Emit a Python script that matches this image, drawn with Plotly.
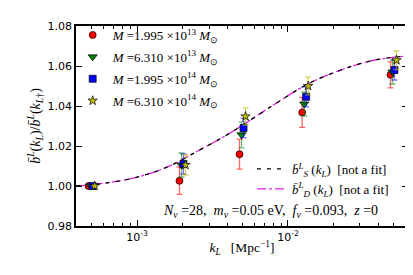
import numpy as np
import plotly.graph_objects as go

# ---- data ----
k_groups = [5.0e-4, 2.0e-3, 5.0e-3, 1.3e-2, 5.0e-2]
dodge = [0.955, 0.985, 1.015, 1.047]

series_names = [
    "<i>M</i> =1.995 ×10<sup>13</sup> <i>M</i><sub>⊙</sub>",
    "<i>M</i> =6.310 ×10<sup>13</sup> <i>M</i><sub>⊙</sub>",
    "<i>M</i> =1.995 ×10<sup>14</sup> <i>M</i><sub>⊙</sub>",
    "<i>M</i> =6.310 ×10<sup>14</sup> <i>M</i><sub>⊙</sub>",
]
red_vals = [1.000, 1.0026, 1.0159, 1.0368, 1.0556]
red_err = [0.0008, 0.0068, 0.0075, 0.0075, 0.0065]
green_vals = [1.000, 1.0105, 1.0256, 1.041, 1.057]
green_err = [0.0006, 0.006, 0.0065, 0.006, 0.006]
blue_vals = [1.000, 1.011, 1.029, 1.0446, 1.058]
blue_err = [0.0005, 0.005, 0.0048, 0.005, 0.005]
star_vals = [1.000, 1.0105, 1.0348, 1.050, 1.0629]
star_err = [0.0005, 0.005, 0.0043, 0.0044, 0.0047]

curve_k = [3.94e-4, 5.52e-4, 9.1e-4, 1.53e-3, 2.54e-3, 4.2e-3, 8.2e-3,
           1.355e-2, 2.244e-2, 3.77e-2, 6.24e-2]
bS_vals = [1.000, 1.001, 1.0037, 1.009, 1.0176, 1.0268, 1.041,
           1.051, 1.058, 1.063, 1.065]
bD_vals = [1.000, 1.001, 1.0037, 1.009, 1.0176, 1.0268, 1.041,
           1.051, 1.058, 1.063, 1.065]

x_tickvals = [1e-3, 1e-2]
x_ticktext = ["10<sup>-3</sup>", "10<sup>-2</sup>"]
y_tickvals = [0.98, 1.00, 1.02, 1.04, 1.06, 1.08]
y_ticktext = ["0.98", "1.00", "1.02", "1.04", "1.06", "1.08"]

# ---- figure ----
serif = "Liberation Serif"
sans = "DejaVu Sans"

fig = go.Figure()

# theory curves first (drawn beneath markers); magenta under black
fig.add_trace(go.Scatter(
    x=curve_k, y=bD_vals, mode="lines", line_shape="spline",
    line=dict(color="#e020e0", width=1.3, dash="dashdot"),
    name="<i>b̄</i><sup><i>L</i></sup><sub><i>D</i></sub> (<i>k<sub>L</sub></i>)  [not a fit]",
    legend="legend2", legendgroup="D", legendrank=2,
))
fig.add_trace(go.Scatter(
    x=curve_k, y=bS_vals, mode="lines", line_shape="spline",
    line=dict(color="black", width=1.3, dash="4px,6px"),
    name="<i>b̄</i><sup><i>L</i></sup><sub><i>S</i></sub> (<i>k<sub>L</sub></i>)  [not a fit]",
    legend="legend2", legendgroup="S", legendrank=1,
))

styles = [
    (red_vals, red_err, "circle", "red", "rgba(255,0,0,0.6)", 7),
    (green_vals, green_err, "triangle-down", "#007f00", "rgba(0,128,0,0.55)", 8),
    (blue_vals, blue_err, "square", "#0000ff", "rgba(0,0,255,0.55)", 7),
    (star_vals, star_err, "star", "#bfbf00", "rgba(191,191,0,0.65)", 7),
]
for i, (vals, err, sym, col, ecol, sz) in enumerate(styles):
    xs = [k * dodge[i] for k in k_groups]
    fig.add_trace(go.Scatter(
        x=xs, y=vals, mode="markers", name=series_names[i],
        marker=dict(symbol=sym, color=col, size=sz,
                    line=dict(color="black", width=0.7)),
        error_y=dict(type="data", array=err, color=ecol, thickness=1.3, width=3),
        legend="legend", legendgroup="m%d" % i,
    ))

minor_vals = [m * 10.0 ** e for e in (-4, -3, -2) for m in range(2, 10)]

fig.update_layout(
    width=413, height=275,
    margin=dict(l=68, r=13, t=18, b=57),
    paper_bgcolor="white", plot_bgcolor="white",
    font=dict(family=serif, size=13, color="black"),
    legend=dict(x=-0.01, y=1.03, xanchor="left", yanchor="top",
                tracegroupgap=2, itemwidth=30,
                bgcolor="rgba(0,0,0,0)", font=dict(family=serif, size=13)),
    legend2=dict(x=0.53, y=0.36, xanchor="left", yanchor="top",
                 tracegroupgap=3, traceorder="normal",
                 bgcolor="rgba(0,0,0,0)", font=dict(family=serif, size=13)),
    xaxis=dict(
        type="log", range=[np.log10(3.94e-4), np.log10(6.24e-2)],
        tickvals=x_tickvals, ticktext=x_ticktext,
        ticks="inside", ticklen=6, tickwidth=1, tickcolor="black",
        mirror="allticks", showline=True, linecolor="black", linewidth=1.5,
        showgrid=False, zeroline=False,
        tickfont=dict(family=sans, size=11),
        minor=dict(tickvals=minor_vals, ticks="inside", ticklen=3,
                   tickcolor="black", showgrid=False),
        title=dict(text="<i>k<sub>L</sub></i>   [Mpc<sup>−1</sup>]",
                   font=dict(family=serif, size=13.5), standoff=0),
    ),
    yaxis=dict(
        range=[0.98, 1.08],
        tickvals=y_tickvals, ticktext=y_ticktext,
        ticks="inside", ticklen=6, tickwidth=1, tickcolor="black",
        mirror="allticks", showline=True, linecolor="black", linewidth=1.5,
        showgrid=False, zeroline=False,
        tickfont=dict(family=sans, size=11),
        title=dict(text="<i>b̄</i><sup><i>L</i></sup>(<i>k<sub>L</sub></i>)/<i>b̄</i><sup><i>L</i></sup>(<i>k</i><sub><i>L</i>†</sub>)",
                   font=dict(family=serif, size=14), standoff=4),
    ),
    annotations=[dict(
        text="<i>N<sub>ν</sub></i> =28,  <i>m<sub>ν</sub></i> =0.05 eV,  <i>f<sub>ν</sub></i> =0.093,  <i>z</i> =0",
        xref="paper", yref="paper", x=0.585, y=0.075,
        xanchor="center", yanchor="middle", showarrow=False,
        font=dict(family=serif, size=14),
    )],
)

fig.write_html("out.html")
